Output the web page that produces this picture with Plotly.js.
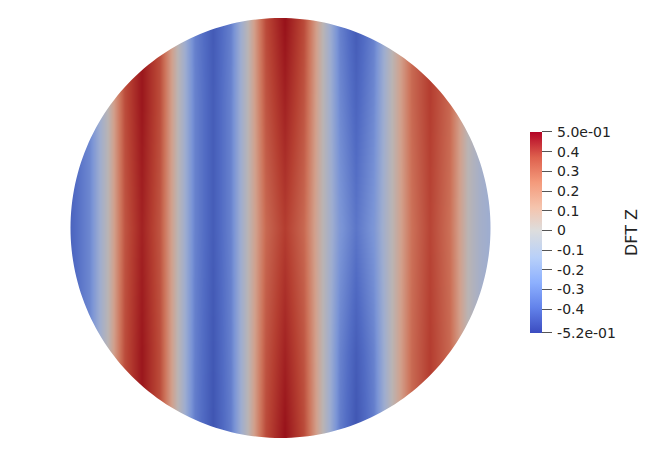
<!DOCTYPE html>
<html>
<head>
<meta charset="utf-8">
<script src="https://cdn.plot.ly/plotly-3.0.1.min.js"></script>
<style>
  html, body { margin: 0; padding: 0; background: #ffffff; }
  #plotArea { width: 664px; height: 453px; }
</style>
</head>
<body>
<div id="plotArea"></div>
<script>
var xs = [-1.05, -0.998, -0.91, -0.826, -0.743, -0.66, -0.574, -0.488, -0.407, -0.326, -0.24, -0.155, -0.069,
          0.017, 0.11, 0.202, 0.279, 0.355, 0.443, 0.531, 0.622, 0.712, 0.803, 0.893, 0.95, 1.05];
var ys = [-1.05, -0.6, 0, 0.6, 1.05];

// DFT Z values, one row per y level
var rowBottom = [-0.42, -0.42, -0.3, 0, 0.34, 0.48, 0.34, 0, -0.34, -0.48, -0.34, 0, 0.35,
                 0.5, 0.35, 0, -0.34, -0.48, -0.34, 0, 0.27, 0.38, 0.27, 0, -0.1, -0.18];
var rowLower  = [-0.42, -0.42, -0.3, 0, 0.34, 0.48, 0.34, 0, -0.33, -0.47, -0.33, 0, 0.32,
                 0.45, 0.32, 0, -0.32, -0.45, -0.32, 0, 0.27, 0.38, 0.27, 0, -0.1, -0.18];
var rowMid    = [-0.42, -0.42, -0.3, 0, 0.32, 0.45, 0.32, 0, -0.32, -0.45, -0.32, 0, 0.27,
                 0.38, 0.27, 0, -0.25, -0.36, -0.25, 0, 0.25, 0.36, 0.25, 0, -0.1, -0.18];
var rowUpper  = [-0.42, -0.42, -0.3, 0, 0.34, 0.48, 0.34, 0, -0.32, -0.45, -0.32, 0, 0.32,
                 0.45, 0.32, 0, -0.3, -0.42, -0.3, 0, 0.27, 0.38, 0.27, 0, -0.1, -0.18];
var rowTop    = [-0.42, -0.42, -0.3, 0, 0.34, 0.48, 0.34, 0, -0.33, -0.46, -0.33, 0, 0.35,
                 0.5, 0.35, 0, -0.33, -0.46, -0.33, 0, 0.27, 0.38, 0.27, 0, -0.1, -0.18];

var tickVals = [0.5, 0.4, 0.3, 0.2, 0.1, 0, -0.1, -0.2, -0.3, -0.4, -0.52];
var tickText = ["5.0e-01", "0.4", "0.3", "0.2", "0.1", "0", "-0.1", "-0.2", "-0.3", "-0.4", "-5.2e-01"];

var zMin = -0.52, zMax = 0.5;
var labelFont = "DejaVu Sans, sans-serif";

// cool to warm, as in the legend
var barScale = [
    [0.0, "rgb(59,76,192)"],
    [0.125, "rgb(98,130,234)"],
    [0.25, "rgb(141,176,254)"],
    [0.375, "rgb(184,208,249)"],
    [0.51, "rgb(221,221,221)"],
    [0.625, "rgb(245,196,173)"],
    [0.75, "rgb(244,154,123)"],
    [0.875, "rgb(222,96,77)"],
    [1.0, "rgb(180,4,38)"]
];
// same map, but shaded the way the lit surface looks
var diskScale = [
    [0.0, "rgb(55,75,170)"],
    [0.125, "rgb(82,108,196)"],
    [0.25, "rgb(122,148,214)"],
    [0.375, "rgb(158,173,208)"],
    [0.51, "rgb(186,180,180)"],
    [0.625, "rgb(210,160,140)"],
    [0.75, "rgb(205,115,90)"],
    [0.875, "rgb(182,64,50)"],
    [1.0, "rgb(150,15,25)"]
];

var field = {
    type: "heatmap",
    x: xs,
    y: ys,
    z: [rowBottom, rowLower, rowMid, rowUpper, rowTop],
    zmin: zMin,
    zmax: zMax,
    zsmooth: "best",
    colorscale: diskScale,
    showscale: false,
    hoverinfo: "skip"
};

var legendTrace = {
    type: "scatter",
    mode: "markers",
    x: [5],
    y: [5],
    hoverinfo: "skip",
    showlegend: false,
    marker: {
        color: [0],
        cmin: zMin,
        cmax: zMax,
        colorscale: barScale,
        opacity: 0,
        showscale: true,
        colorbar: {
            x: 0.798,
            xanchor: "left",
            xpad: 0,
            y: 0.487,
            yanchor: "middle",
            ypad: 0,
            lenmode: "pixels",
            len: 201,
            thickness: 12,
            outlinewidth: 0,
            ticks: "outside",
            ticklen: 10,
            tickwidth: 1,
            tickcolor: "#555",
            tickvals: tickVals,
            ticktext: tickText.map(function(t) { return "\u2009" + t; }),
            tickfont: {family: labelFont, size: 14, color: "#222"}
        }
    }
};

// white mask around the unit disk
var ring = "M -3,-3 L 3,-3 L 3,3 L -3,3 Z M 1,0";
for (var i = 1; i <= 240; i++) {
    var a = i / 240 * 2 * Math.PI;
    ring += " L " + Math.cos(a).toFixed(5) + "," + Math.sin(a).toFixed(5);
}
ring += " Z";

var layout = {
    width: 664,
    height: 453,
    margin: {l: 0, r: 0, t: 0, b: 0},
    paper_bgcolor: "#ffffff",
    plot_bgcolor: "#ffffff",
    showlegend: false,
    xaxis: {range: [-1.3357, 1.8262], visible: false, fixedrange: true},
    yaxis: {range: [-1.0714, 1.0857], visible: false, fixedrange: true},
    shapes: [{
        type: "path",
        xref: "x",
        yref: "y",
        path: ring,
        fillrule: "evenodd",
        fillcolor: "#ffffff",
        line: {width: 0},
        layer: "above"
    }],
    annotations: [{
        text: "DFT Z",
        xref: "paper",
        yref: "paper",
        x: 632 / 664,
        y: 1 - 233 / 453,
        xanchor: "center",
        yanchor: "middle",
        textangle: -90,
        showarrow: false,
        font: {family: labelFont, size: 16, color: "#222"}
    }]
};

Plotly.newPlot("plotArea", [field, legendTrace], layout, {staticPlot: true});
</script>
</body>
</html>
